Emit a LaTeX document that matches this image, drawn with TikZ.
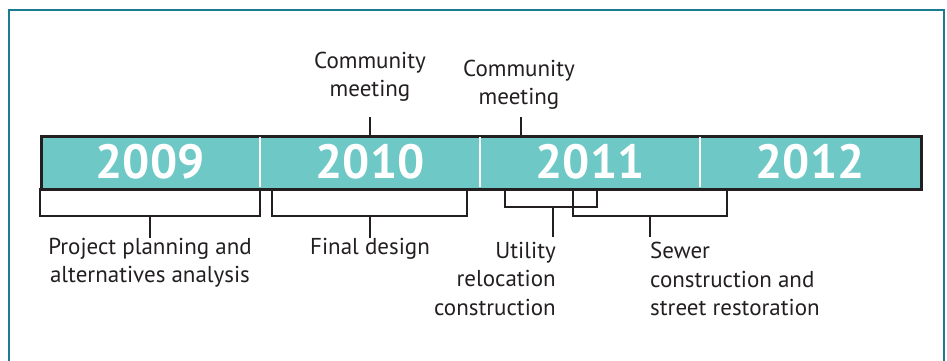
\documentclass[tikz,border=0pt]{standalone}
\usepackage{fontspec}
\setmainfont{PT Sans}
\usetikzlibrary{positioning}
\definecolor{framecol}{HTML}{1B7B90}
\definecolor{barcol}{HTML}{6DC8C6}
\definecolor{inkcol}{HTML}{231F20}

\begin{document}
\begin{tikzpicture}[x=1pt,y=-1pt,
    yearnum/.style={text=white,font=\bfseries\fontsize{48}{48}\selectfont,inner sep=0pt},
    phase/.style={text=inkcol,font=\fontsize{23}{28.5}\selectfont,inner sep=0pt},
    bracket/.style={draw=inkcol,line width=1.5pt}]
    \useasboundingbox (0,0) rectangle (947,360);
    % frame
    \draw[framecol,line width=2.5pt] (9,362) |- (944,10) -- (944,362);
    % the bar
    \node[draw=inkcol,line width=2.5pt,fill=barcol,minimum width=880pt,minimum height=53pt,
      inner sep=0pt,anchor=north west] (bar) at (40,135) {};
    \foreach \x in {260,480,700}
      \draw[white,line width=1.5pt] (\x,136.5) -- (\x,186.5);
    \foreach \yr/\x in {2009/150,2010/370,2011/590,2012/810}
      \node[yearnum] (y\yr) at (\x,162) {\yr};

    % community meetings
    \node[phase,align=center,anchor=south] (meet1) at (370,102) {Community\\meeting};
    \node[phase,align=center,anchor=south] (meet2) at (519,110) {Community\\meeting};
    \coordinate (m1) at (370,135);
    \coordinate (m2) at (521,135);
    \draw[bracket] (m1) -- ++(0,-18);
    \draw[bracket] (m2) -- ++(0,-18);

    % phases below the bar
    \node[phase,align=center,anchor=north] (plan) at (150,238) {Project planning and\\alternatives analysis};
    \node[phase,align=center,anchor=north] (design) at (370,238) {Final design};
    \node[phase,align=right,anchor=north east] (util) at (556,242) {Utility\\relocation\\construction};
    \node[phase,align=left,anchor=north west] (sewer) at (650,242) {Sewer\\construction and\\street restoration};

    \draw[bracket] (40,188) |- (150,216) coordinate (b1) -| (260,188);
    \draw[bracket] (272,188) |- (370,216) coordinate (b2) -| (467,188);
    \draw[bracket] (505,188) |- (553,207) coordinate (b3) -| (597,188);
    \draw[bracket] (573,188) |- (650,216) coordinate (b4) -| (727,188);
    \draw[bracket] (b1) -- (plan.north);
    \draw[bracket] (b2) -- (design.north);
    \draw[bracket] (b3) -- (553,237);
    \draw[bracket] (b4) -- (650,237);
\end{tikzpicture}
\end{document}
